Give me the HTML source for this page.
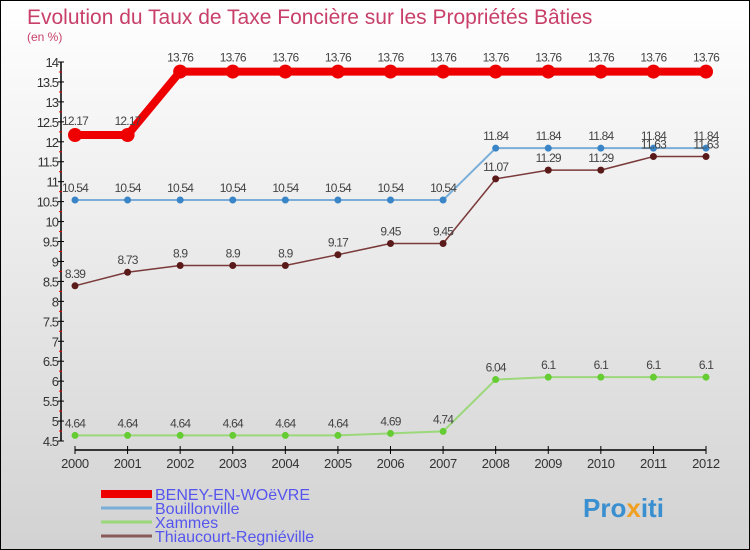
<!DOCTYPE html>
<html><head><meta charset="utf-8"><style>
html,body{margin:0;padding:0}
body{width:750px;height:550px;overflow:hidden;font-family:"Liberation Sans",sans-serif}
#c{position:relative;width:748px;height:548px;border:1px solid #000;background:linear-gradient(#ffffff,#d2d2d2)}
svg{position:absolute;left:0;top:0}
</style></head><body>
<div id="c">
<svg id="s" width="748" height="548">
<text x="26" y="23" font-size="21" fill="#c8406a">Evolution du Taux de Taxe Foncière sur les Propriétés Bâties</text>
<text x="26" y="40" font-size="12" fill="#c8406a">(en %)</text>
<g id="axes"></g><g id="series"></g><g id="legend"></g>
<text x="582" y="516" font-size="26" font-weight="bold" fill="#3a8fd0">Pro<tspan fill="#f0a020">x</tspan>iti</text>
</svg>
</div>
<script>
const years=[2000,2001,2002,2003,2004,2005,2006,2007,2008,2009,2010,2011,2012];
const yTicks=[4.5,5,5.5,6,6.5,7,7.5,8,8.5,9,9.5,10,10.5,11,11.5,12,12.5,13,13.5,14];
const beney=[12.17,12.17,13.76,13.76,13.76,13.76,13.76,13.76,13.76,13.76,13.76,13.76,13.76];
const bouillon=[10.54,10.54,10.54,10.54,10.54,10.54,10.54,10.54,11.84,11.84,11.84,11.84,11.84];
const xammes=[4.64,4.64,4.64,4.64,4.64,4.64,4.69,4.74,6.04,6.1,6.1,6.1,6.1];
const thiau=[8.39,8.73,8.9,8.9,8.9,9.17,9.45,9.45,11.07,11.29,11.29,11.63,11.63];
const names=["BENEY-EN-WOëVRE","Bouillonville","Xammes","Thiaucourt-Regniéville"];
const NS="http://www.w3.org/2000/svg";
const x=i=>74+i*(705-74)/(years.length-1);
const y=v=>440-(v-4.5)*(440-61)/(14-4.5);
function mk(tag,attrs,parent,txt){const e=document.createElementNS(NS,tag);for(const k in attrs)e.setAttribute(k,attrs[k]);if(txt!==undefined)e.textContent=txt;parent.appendChild(e);return e;}
const ax=document.getElementById('axes');
let e=mk('line',{x1:60,x2:60,y1:y(14),y2:y(4.5),stroke:'#000','stroke-width':1.5},ax);

e=mk('line',{x1:x(0),x2:x(12),y1:449,y2:449,stroke:'#000','stroke-width':1.5},ax);

yTicks.forEach((t,i)=>{
  mk('line',{x1:57,x2:63,y1:y(t),y2:y(t),stroke:'#000'},ax);
  if(i<yTicks.length-1)mk('line',{x1:58,x2:61,y1:y(t+0.25),y2:y(t+0.25),stroke:'#e00'},ax);
  e=mk('text',{x:57,y:y(t)+5,'font-size':13,'text-anchor':'end',fill:'#333','letter-spacing':'-1'},ax,String(t));
  
});
years.forEach((yr,i)=>{
  mk('line',{x1:x(i),x2:x(i),y1:445,y2:453,stroke:'#000'},ax);
  e=mk('text',{x:x(i),y:467,'font-size':13,'text-anchor':'middle',fill:'#333','letter-spacing':'-0.3'},ax,String(yr));
  
});
const sg=document.getElementById('series');
const defs=[{d:beney,c:'#ee0000',w:8,r:7},{d:bouillon,c:'#7aaed8',w:2,r:3.5,dot:'#3a85c8'},{d:xammes,c:'#9ad87a',w:2,r:3.5,dot:'#66cc33'},{d:thiau,c:'#7a3a3a',w:1.5,r:3.5,dot:'#5a1a1a'}];
const keys=['beney','bouillonville','xammes','thiaucourt'];
defs.forEach((s,k)=>{
  const g=mk('g',{},sg);
  
  e=mk('polyline',{points:s.d.map((v,i)=>x(i)+','+y(v)).join(' '),fill:'none',stroke:s.c,'stroke-width':s.w,'stroke-linejoin':'round'},g);
  
  s.d.forEach((v,i)=>{
    e=mk('circle',{cx:x(i),cy:y(v),r:s.r,fill:s.dot||s.c},g);
    
    e=mk('text',{x:x(i),y:y(v)-(k==0?10:8),'font-size':12,'text-anchor':'middle',fill:'#444','letter-spacing':'-0.8'},g,String(v));
    
  });
});
const lg=document.getElementById('legend');
const lc=['#ee0000','#7aaed8','#9ad87a','#8a5a5a'],lw=[8,3,3,3];
names.forEach((n,i)=>{
  const yy=493+i*14;
  const g=mk('g',{},lg);
  
  mk('line',{x1:100,x2:151,y1:yy,y2:yy,stroke:lc[i],'stroke-width':lw[i]},g);
  mk('text',{x:154,y:yy+6,'font-size':16,fill:'#5555ee'},g,n);
});
</script>
</body></html>
